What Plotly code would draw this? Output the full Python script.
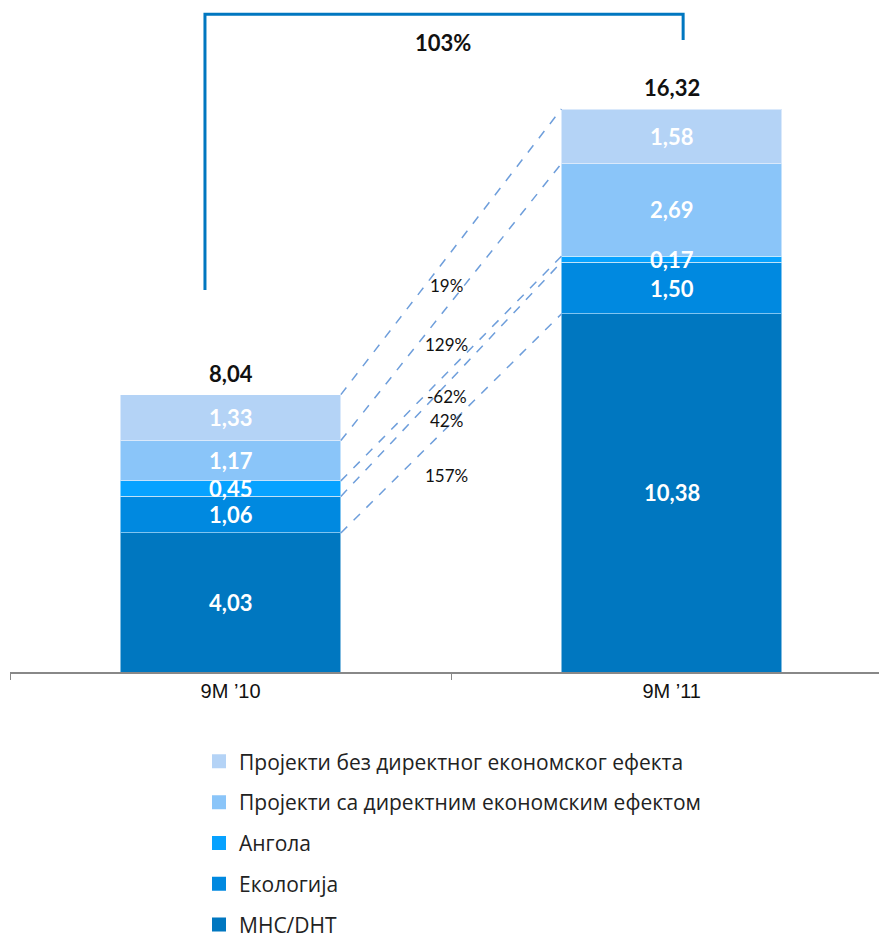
import plotly.graph_objects as go

# data
categories = ["9M ’10", "9M ’11"]
series_names = [
    "МНС/DHT",
    "Екологија",
    "Ангола",
    "Пројекти са директним економским ефектом",
    "Пројекти без директног економског ефекта",
]
mns = [4.03, 10.38]
ekologija = [1.06, 1.50]
angola = [0.45, 0.17]
sa_efektom = [1.17, 2.69]
bez_efekta = [1.33, 1.58]
totals = [8.04, 16.32]
change_labels = ["157%", "42%", "-62%", "129%", "19%"]
total_change = "103%"

colors = ["#0077C0", "#0089E0", "#07A2FF", "#8AC5F9", "#B4D3F6"]
series = [mns, ekologija, angola, sa_efektom, bez_efekta]

# layout constants
BAR_W = 0.5
Y_MAX = 19.48
# y of each growth label (data units), bottom series first
change_y = [5.71, 7.30, 8.0, 9.48, 11.19]
FONT = "Lato, Open Sans, sans-serif"


def fmt(v):
    return f"{v:.2f}".replace(".", ",")


fig = go.Figure()
for i, (name, vals) in enumerate(zip(series_names, series)):
    fig.add_trace(go.Bar(
        x=categories, y=vals, name=name, width=BAR_W,
        marker=dict(color=colors[i], line=dict(color="rgba(255,255,255,0.5)", width=1)),
        showlegend=False, hoverinfo="skip",
    ))
    # legend entry with a bigger square swatch
    fig.add_trace(go.Scatter(
        x=[None], y=[None], mode="markers", name=name,
        marker=dict(symbol="square", size=14, color=colors[i]),
        legendgroup=name, legendrank=len(series) - i,
    ))

annotations = []
shapes = []
bottoms = [0.0, 0.0]
tops_by_series = []
for vals in series:
    tops = []
    for j, v in enumerate(vals):
        annotations.append(dict(
            x=categories[j], y=bottoms[j] + v / 2, text=fmt(v), showarrow=False,
            font=dict(family=FONT, size=22, color="white", weight="bold"),
        ))
        bottoms[j] += v
        tops.append(bottoms[j])
    tops_by_series.append(tops)

# dashed connector lines between segment tops
for i, tops in enumerate(tops_by_series):
    shapes.append(dict(
        type="line", xref="x", yref="y",
        x0=BAR_W / 2, x1=1 - BAR_W / 2, y0=tops[0], y1=tops[1],
        line=dict(color="#6E9EDB", width=1.5, dash="dash"),
    ))
    annotations.append(dict(
        x=0.49, y=change_y[i], text=change_labels[i], showarrow=False,
        font=dict(family=FONT, size=17, color="#111"),
    ))

# totals above bars
for j, t in enumerate(totals):
    annotations.append(dict(
        x=categories[j], y=t, text=fmt(t), showarrow=False, yanchor="bottom", yshift=6,
        font=dict(family=FONT, size=22, color="#111", weight="bold"),
    ))

# bracket for total growth
bx0, bx1 = -0.058, 1.026
btop = 19.07
shapes.append(dict(
    type="path", xref="x", yref="y",
    path=f"M {bx0},{totals[0] + 3.03} L {bx0},{btop} L {bx1},{btop} L {bx1},{totals[1] + 2.0}",
    line=dict(color="#0077C0", width=3),
))
annotations.append(dict(
    x=0.482, y=18.26, text=total_change, showarrow=False,
    font=dict(family=FONT, size=22, color="#111", weight="bold"),
))

fig.update_layout(
    width=879, height=938,
    margin=dict(l=10, r=0, t=0, b=266, autoexpand=False),
    paper_bgcolor="white", plot_bgcolor="white",
    barmode="stack", bargap=0.5,
    showlegend=True,
    legend=dict(
        x=0.2175, y=-0.103, xanchor="left", yanchor="top",
        traceorder="grouped", tracegroupgap=10.5, itemsizing="trace",
        font=dict(family="Open Sans, Noto Sans, sans-serif", size=21, color="#222"),
    ),
    xaxis=dict(
        type="category", range=[-0.5, 1.47],
        showline=True, linecolor="#888", linewidth=2,
        ticks="outside", tickson="boundaries", ticklen=6, tickcolor="#888",
        tickfont=dict(family="Liberation Sans, Arial", size=20, color="#111"),
        showgrid=False, zeroline=False,
    ),
    yaxis=dict(range=[0, Y_MAX], visible=False, showgrid=False, zeroline=False),
    annotations=annotations,
    shapes=shapes,
)

fig.write_html("out.html", config={"displayModeBar": False},
               post_script="document.body.style.margin='0';")
